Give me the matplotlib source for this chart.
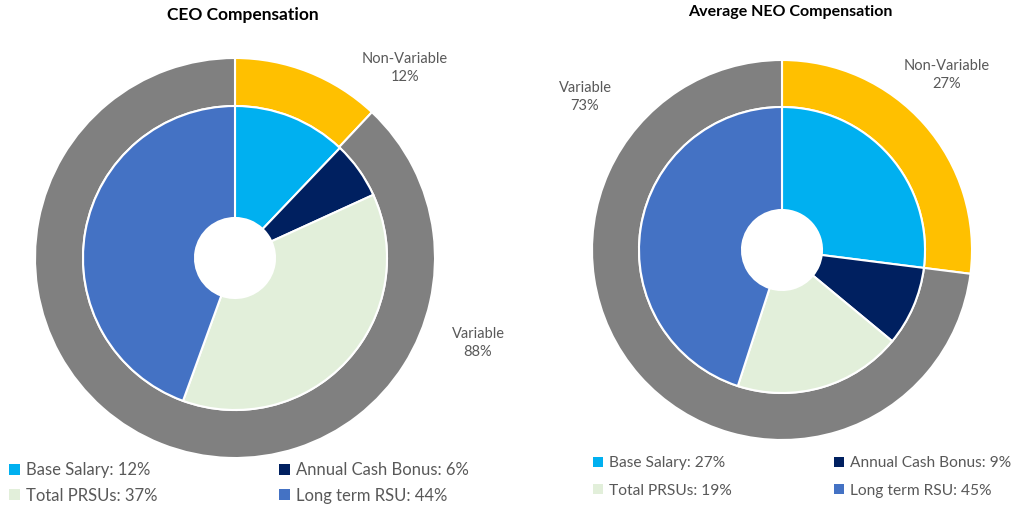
import matplotlib.pyplot as plt
from matplotlib.patches import Patch

plt.rcParams['font.family'] = ['Lato', 'DejaVu Sans']

# data
parts = ['Base Salary', 'Annual Cash Bonus', 'Total PRSUs', 'Long term RSU']
ceo_parts = [12, 6, 37, 44]
neo_parts = [27, 9, 19, 45]
mix_labels = ['Non-Variable', 'Variable']
ceo_mix = [12, 88]
neo_mix = [27, 73]

part_colors = ['#00B0F0', '#002060', '#E2EFDA', '#4472C4']
mix_colors = ['#FFC000', '#808080']
txt = '#595959'

W, H = 1013, 507
fig = plt.figure(figsize=(W / 100, H / 100), dpi=100)
ax = fig.add_axes([0, 0, 1, 1])
ax.set_xlim(0, W)
ax.set_ylim(0, H)
ax.set_aspect('equal')
ax.axis('off')


def donut(cx, cy, r_out, r_in, hole, mix, vals):
    c = (cx, H - cy)
    ax.pie(mix, colors=mix_colors, startangle=90, counterclock=False,
           center=c, radius=r_out, frame=True,
           wedgeprops=dict(width=r_out - r_in, edgecolor='white', linewidth=1.5))
    ax.pie(vals, colors=part_colors, startangle=90, counterclock=False,
           center=c, radius=r_in, frame=True,
           wedgeprops=dict(width=r_in - hole, edgecolor='white', linewidth=1.5))


donut(235, 258, 200, 152, 40, ceo_mix, ceo_parts)
donut(782, 250, 190, 143, 40, neo_mix, neo_parts)

ax.set_xlim(0, W)
ax.set_ylim(0, H)
ax.axis('off')

# titles
ax.text(243, H - 15, 'CEO Compensation', ha='center', va='center',
        fontsize=12.5, fontweight='bold', color='black')
ax.text(790, H - 12, 'Average NEO Compensation', ha='center', va='center',
        fontsize=11.5, fontweight='bold', color='black')

# ring labels
lab = dict(ha='center', va='center', fontsize=10.5, color=txt, linespacing=1.3)
ax.text(405, H - 68, f'{mix_labels[0]}\n{ceo_mix[0]}%', **lab)
ax.text(478, H - 343, f'{mix_labels[1]}\n{ceo_mix[1]}%', **lab)
ax.text(947, H - 75, f'{mix_labels[0]}\n{neo_mix[0]}%', **lab)
ax.text(585, H - 97, f'{mix_labels[1]}\n{neo_mix[1]}%', **lab)


# legends
def legend_col(idx, vals, x, y, gap, size):
    handles = [Patch(facecolor=part_colors[i], edgecolor='none') for i in idx]
    labels = [f'{parts[i]}: {vals[i]}%' for i in idx]
    fig.legend(handles, labels, loc='center left',
               bbox_to_anchor=(x / W, 1 - y / H), frameon=False,
               handlelength=0.65, handleheight=0.65, handletextpad=0.35,
               labelspacing=gap, fontsize=size, labelcolor=txt, borderpad=0,
               borderaxespad=0)


legend_col([0, 2], ceo_parts, 9, 483, 0.55, 12)
legend_col([1, 3], ceo_parts, 279, 483, 0.55, 12)
legend_col([0, 2], neo_parts, 593, 477, 0.85, 11.2)
legend_col([1, 3], neo_parts, 834, 477, 0.85, 11.2)

fig.savefig('out.png', dpi=100)
